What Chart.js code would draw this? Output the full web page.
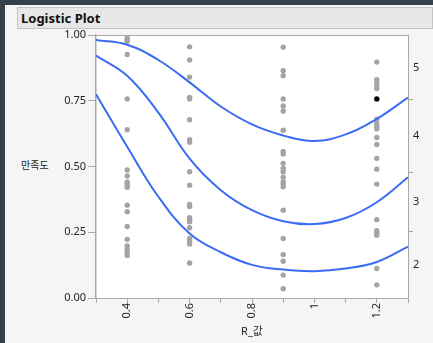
<!DOCTYPE html>
<html>
<head>
<meta charset="utf-8">
<script src="https://cdn.jsdelivr.net/npm/chart.js@4.4.0/dist/chart.umd.min.js"></script>
<style>
  html, body { margin: 0; padding: 0; }
  body { width: 433px; height: 343px; background: #33424b; position: relative; overflow: hidden; }
  #panel { position: absolute; left: 5px; top: 5px; width: 428px; height: 338px; background: #f5f5f5; }
  #head { position: absolute; left: 17px; top: 7px; width: 411px; height: 20px; padding-left: 3px;
          border: 1px solid #c4c4c4; background: #e7e7e7; color: #111;
          font: bold 13px 'Noto Sans', sans-serif; line-height: 20px; }
  #ylab { position: absolute; left: 21px; top: 157px; color: #222;
          font: 10px 'Noto Sans CJK KR', sans-serif; }
  #plot { position: absolute; left: 0; top: 0; }
</style>
</head>
<body>
<div id="panel"></div>
<div id="head">Logistic Plot</div>
<div id="ylab">만족도</div>
<canvas id="plot" width="433" height="343"></canvas>
<script>
// fitted cumulative probability curves
var curveX   = [0.3, 0.4, 0.5, 0.6, 0.7, 0.8, 0.9, 1.0, 1.1, 1.2, 1.3];
var curveTop = [0.981, 0.963, 0.905, 0.820, 0.728, 0.660, 0.618, 0.597, 0.622, 0.681, 0.762];
var curveMid = [0.922, 0.845, 0.705, 0.530, 0.410, 0.334, 0.292, 0.281, 0.304, 0.364, 0.459];
var curveLow = [0.775, 0.575, 0.385, 0.245, 0.174, 0.126, 0.108, 0.102, 0.112, 0.137, 0.195];

// observations, one list per R_값 column
var colX  = [0.4, 0.6, 0.9, 1.2];
var pts04 = [0.990, 0.983, 0.976, 0.926, 0.757, 0.640, 0.487, 0.464, 0.440, 0.431, 0.421,
             0.353, 0.328, 0.272, 0.223, 0.198, 0.184, 0.173, 0.162];
var pts06 = [0.955, 0.905, 0.840, 0.763, 0.757, 0.678, 0.602, 0.592, 0.480, 0.429, 0.356,
             0.348, 0.305, 0.296, 0.290, 0.267, 0.226, 0.216, 0.205, 0.133];
var pts09 = [0.954, 0.864, 0.845, 0.757, 0.730, 0.711, 0.638, 0.557, 0.548, 0.512, 0.493,
             0.480, 0.459, 0.442, 0.433, 0.423, 0.334, 0.226, 0.165, 0.140, 0.087, 0.035];
var pts12 = [0.897, 0.830, 0.818, 0.807, 0.797, 0.680, 0.664, 0.652, 0.643, 0.610, 0.584,
             0.531, 0.490, 0.433, 0.298, 0.256, 0.247, 0.239, 0.112, 0.050];
var selX = [1.2];
var selY = [0.757];

// axes
var xTicks = [0.3, 0.4, 0.5, 0.6, 0.7, 0.8, 0.9, 1.0, 1.1, 1.2, 1.3];
var xTickLabels = ['', '0.4', '', '0.6', '', '0.8', '', '1', '', '1.2', ''];
var yTicks = [0, 0.25, 0.5, 0.75, 1];
var yTickLabels = ['0.00', '0.25', '0.50', '0.75', '1.00'];
var levelCuts = [0.252, 0.477, 0.753];
var levelNames = ['2', '3', '4', '5'];

var axisGrey = '#a9a9a9';
var textCol = '#262626';
var tickFont = { family: "'Noto Sans', sans-serif", size: 11 };

function curve(ys) {
    return curveX.map(function(x, i) { return { x: x, y: ys[i] }; });
}
var obs = [];
[pts04, pts06, pts09, pts12].forEach(function(ys, c) {
    ys.forEach(function(y) { obs.push({ x: colX[c], y: y }); });
});
var sel = selX.map(function(x, i) { return { x: x, y: selY[i] }; });

function lineSet(ys) {
    return {
        data: curve(ys), showLine: true, pointRadius: 0,
        borderColor: '#3a6cf4', borderWidth: 2,
        tension: 0.4, order: 0
    };
}

var plotBg = {
    id: 'plotBg',
    beforeDraw: function(chart) {
        var a = chart.chartArea, ctx = chart.ctx;
        ctx.save();
        ctx.fillStyle = '#ffffff';
        ctx.fillRect(a.left, a.top, a.right - a.left, a.bottom - a.top);
        ctx.restore();
    }
};

var ctx = document.getElementById('plot').getContext('2d');
new Chart(ctx, {
    type: 'scatter',
    data: {
        datasets: [
            lineSet(curveTop),
            lineSet(curveMid),
            lineSet(curveLow),
            { data: sel, pointRadius: 2.7, backgroundColor: '#000', borderWidth: 0, order: 1 },
            { data: obs, pointRadius: 2.7, backgroundColor: '#a4a4a4', borderWidth: 0, order: 2 }
        ]
    },
    options: {
        responsive: false,
        animation: false,
        layout: { padding: { top: 25, left: 0, right: 0, bottom: 0 } },
        plugins: { legend: { display: false }, tooltip: { enabled: false } },
        scales: {
            x: {
                type: 'linear', position: 'bottom', min: 0.3, max: 1.3,
                afterBuildTicks: function(s) { s.ticks = xTicks.map(function(v) { return { value: v }; }); },
                afterFit: function(s) { s.height = 45; },
                ticks: {
                    autoSkip: false, minRotation: 90, maxRotation: 90, padding: 0,
                    color: textCol, font: tickFont,
                    callback: function(v, i) { return xTickLabels[i]; }
                },
                grid: { drawOnChartArea: false, tickLength: 5, color: axisGrey },
                border: { color: axisGrey },
                title: {
                    display: true, text: 'R_값', color: textCol,
                    font: { family: "'Noto Sans', 'Noto Sans CJK KR', sans-serif", size: 11 },
                    padding: { top: 0, bottom: 5 }
                }
            },
            xTop: {
                type: 'linear', position: 'top', min: 0.3, max: 1.3,
                afterFit: function(s) { s.height = 10; },
                ticks: { display: false },
                grid: { display: false },
                border: { color: axisGrey }
            },
            y: {
                type: 'linear', position: 'left', min: 0, max: 1,
                afterBuildTicks: function(s) { s.ticks = yTicks.map(function(v) { return { value: v }; }); },
                afterFit: function(s) { s.width = 96; },
                ticks: {
                    padding: 2, color: textCol, font: tickFont,
                    callback: function(v, i) { return yTickLabels[i]; }
                },
                grid: { drawOnChartArea: false, tickLength: 8, color: axisGrey },
                border: { color: axisGrey, width: 1.5 }
            },
            y2: {
                type: 'linear', position: 'right', min: 0, max: 1,
                afterBuildTicks: function(s) {
                    var bounds = [0].concat(levelCuts, [1]);
                    var t = [];
                    levelNames.forEach(function(name, i) {
                        t.push({ value: (bounds[i] + bounds[i + 1]) / 2, name: name });
                        if (i < levelCuts.length) t.push({ value: levelCuts[i], cut: true });
                    });
                    s.ticks = t;
                },
                afterFit: function(s) { s.width = 25; },
                ticks: {
                    padding: 0, color: textCol, font: tickFont,
                    callback: function(v, i, t) { return t[i].name || ''; }
                },
                grid: {
                    drawOnChartArea: false, tickLength: 5,
                    tickColor: function(c) { return c.tick && c.tick.cut ? axisGrey : 'rgba(0,0,0,0)'; }
                },
                border: { color: axisGrey }
            }
        }
    },
    plugins: [plotBg]
});
</script>
</body>
</html>
